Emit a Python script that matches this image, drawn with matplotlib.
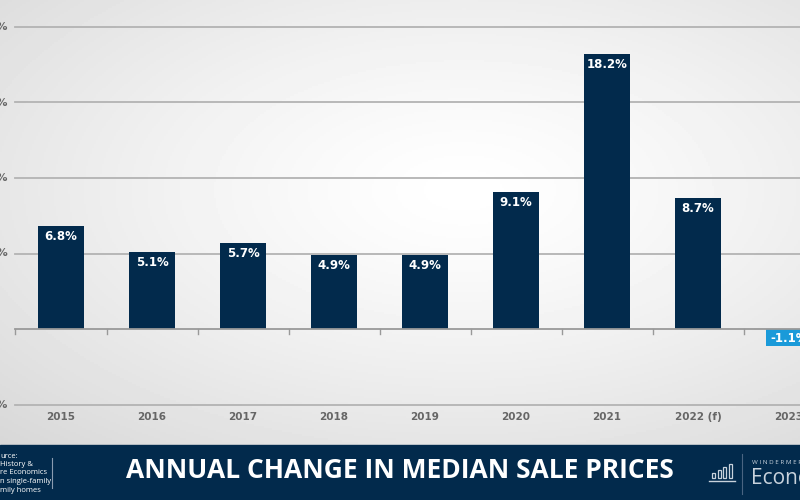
import numpy as np
import matplotlib.pyplot as plt
from matplotlib.patches import Rectangle

# data
years = ['2015', '2016', '2017', '2018', '2019', '2020', '2021', '2022 (f)', '2023']
change = [6.8, 5.1, 5.7, 4.9, 4.9, 9.1, 18.2, 8.7, -1.1]
labels = ['6.8%', '5.1%', '5.7%', '4.9%', '4.9%', '9.1%', '18.2%', '8.7%', '-1.1%']
yticks = [-5, 0, 5, 10, 15, 20]
source_lines = ['urce:', 'History &', 're Economics', 'n single-family', 'mily homes']

navy = '#022a4c'
blue = '#1a9ad9'

fig = plt.figure(figsize=(8, 5), dpi=100)

# background radial gradient
bg = fig.add_axes([0, 0, 1, 1])
gx, gy = np.meshgrid(np.linspace(0, 1, 400), np.linspace(0, 1, 250))
r = np.sqrt(((gx - 0.58) / 0.9) ** 2 + ((gy - 0.62) / 0.75) ** 2)
bg.imshow(1 - 0.17 * np.clip(r, 0, 1) ** 1.3, cmap='gray', vmin=0, vmax=1,
          extent=[0, 1, 0, 1], aspect='auto', origin='lower')
bg.axis('off')

ax = fig.add_axes([0, 0, 1, 1])
ax.patch.set_alpha(0)
# pixel mapping: x = 61 + 91*i, y = 329 - 15.1*v
ax.set_xlim(-61 / 91, (800 - 61) / 91)
ax.set_ylim((329 - 500) / 15.1, 329 / 15.1)
ax.axis('off')

x0 = ax.get_xlim()[0]
for t in yticks:
    if t == 0:
        continue
    ax.plot([x0 + 15 / 91, 9], [t, t], color='#b3b3b3', lw=1.3, zorder=1)
    ax.text(x0 + 8 / 91, t, f'{t}%', ha='right', va='center', fontsize=8,
            fontweight='bold', color='#666666', family='DejaVu Sans')
ax.plot([x0 + 15 / 91, 9], [0, 0], color='#999999', lw=1.3, zorder=3)
ax.plot([x0 + 15 / 91] * 2, [0, -0.3], color='#999999', lw=1, zorder=3)
for i in range(len(years) - 1):
    ax.plot([i + 0.5, i + 0.5], [0, -0.3], color='#999999', lw=1, zorder=3)

colors = [navy] * (len(years) - 1) + [blue]
ax.bar(range(len(years)), change, width=0.495, color=colors, zorder=2)

for i, (v, lab) in enumerate(zip(change, labels)):
    ypos = v - 0.7 if v > 0 else -0.6
    ax.text(i, ypos, lab, ha='center', va='center', color='white', fontsize=8.5,
            fontweight='bold', family='DejaVu Sans', zorder=4)
    ax.text(i, -5.85, years[i], ha='center', va='center', color='#666666',
            fontsize=7.5, fontweight='bold', family='DejaVu Sans')

# bottom banner
fig.patches.append(Rectangle((0, 0), 1, 55 / 500, transform=fig.transFigure,
                             color=navy, zorder=5))
fig.text(0.5, 29 / 500, 'ANNUAL CHANGE IN MEDIAN SALE PRICES', ha='center',
         va='center', color='white', fontsize=19, fontweight='bold',
         family='Open Sans', zorder=6)
for k, line in enumerate(source_lines):
    fig.text(0, (44 - 8.5 * k) / 500, line, ha='left', va='center',
             color='white', fontsize=5.5, family='Open Sans', zorder=6)
fig.lines.append(plt.Line2D([52 / 800] * 2, [12 / 500, 42 / 500],
                            transform=fig.transFigure, color='#8a9bb0',
                            lw=0.8, zorder=6))
fig.lines.append(plt.Line2D([742 / 800] * 2, [6 / 500, 46 / 500],
                            transform=fig.transFigure, color='#4a6482',
                            lw=0.8, zorder=6))
# small bar icon
icon_h = [5, 8, 11, 14]
for k, h in enumerate(icon_h):
    fig.patches.append(Rectangle(((712 + 5.5 * k) / 800, 22 / 500), 3 / 800, h / 500,
                                 transform=fig.transFigure, fill=False,
                                 ec='#c8d2dc', lw=0.9, zorder=6))
fig.lines.append(plt.Line2D([709 / 800, 735 / 800], [19 / 500] * 2,
                            transform=fig.transFigure, color='#c8d2dc',
                            lw=1, zorder=6))
fig.text(752 / 800, 37 / 500, 'W I N D E R M E R E', ha='left', va='center',
         color='#c8d2dc', fontsize=4.5, family='Open Sans', zorder=6)
fig.text(751 / 800, 22 / 500, 'Economics', ha='left', va='center',
         color='#c8d2dc', fontsize=15, family='Open Sans', zorder=6)

fig.savefig('out.png', dpi=100)
